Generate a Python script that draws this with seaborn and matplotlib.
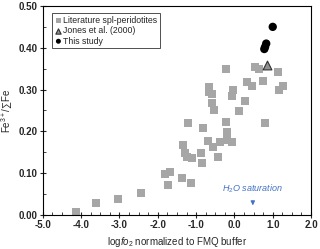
import numpy as np
import pandas as pd
import seaborn as sns
import matplotlib
matplotlib.use('Agg')
import matplotlib.pyplot as plt
from matplotlib.ticker import MultipleLocator

# literature spinel peridotites
lit_x = [-4.14, -3.62, -3.04, -2.44, -1.81, -1.68, -1.74, -1.37, -1.13, -1.34,
         -1.29, -1.24, -1.11, -0.87, -0.85, -1.21, -0.82, -0.69, -0.56, -0.43,
         -0.38, -0.19, -0.06, -0.19, -0.22, -0.66, -0.66, -0.59, -0.59, -0.53,
         -0.22, -0.04, -0.06, 0.33, 0.46, 0.28, 0.12, 0.54, 0.64, 1.14,
         0.75, 1.27, 1.16, 0.80]
lit_y = [0.007, 0.029, 0.038, 0.053, 0.098, 0.103, 0.072, 0.089, 0.077, 0.167,
         0.148, 0.139, 0.136, 0.148, 0.124, 0.220, 0.208, 0.177, 0.163, 0.139,
         0.175, 0.179, 0.175, 0.199, 0.222, 0.306, 0.294, 0.289, 0.268, 0.251,
         0.349, 0.299, 0.285, 0.318, 0.309, 0.273, 0.249, 0.354, 0.349, 0.342,
         0.321, 0.309, 0.299, 0.220]

# Jones et al. (2000)
jones_x = [0.84]
jones_y = [0.359]

# this study
study_x = [1.00, 0.83, 0.80, 0.78]
study_y = [0.450, 0.410, 0.402, 0.397]

sns.set_style('ticks')
plt.rcParams['font.family'] = ['Liberation Sans', 'DejaVu Sans']
plt.rcParams['mathtext.fontset'] = 'custom'
plt.rcParams['mathtext.rm'] = 'Liberation Sans'
plt.rcParams['mathtext.it'] = 'Liberation Sans:italic'

fig = plt.figure(figsize=(3.2, 2.49), dpi=100)
ax = fig.add_axes([0.134, 0.137, 0.838, 0.839])

sns.scatterplot(x=lit_x, y=lit_y, ax=ax, marker='s', s=36, color='#a6a6a6',
                edgecolor='none', label='Literature spl-peridotites', zorder=2)
sns.scatterplot(x=jones_x, y=jones_y, ax=ax, marker='^', s=40, color='#909090',
                edgecolor='#303030', linewidth=0.8, label='Jones et al. (2000)', zorder=3)
sns.scatterplot(x=study_x, y=study_y, ax=ax, marker='o', s=36, color='black',
                edgecolor='none', label='This study', zorder=4)

ax.set_xlim(-5.0, 2.0)
ax.set_ylim(0.0, 0.5)
ax.xaxis.set_major_locator(MultipleLocator(1.0))
ax.xaxis.set_minor_locator(MultipleLocator(0.25))
ax.yaxis.set_major_locator(MultipleLocator(0.1))
ax.yaxis.set_minor_locator(MultipleLocator(0.05))
ax.xaxis.set_major_formatter(plt.FormatStrFormatter('%.1f'))
ax.yaxis.set_major_formatter(plt.FormatStrFormatter('%.2f'))
ax.tick_params(which='major', direction='inout', length=4, width=0.8,
               labelsize=7, pad=2)
ax.tick_params(which='minor', direction='in', length=2, width=0.6)
for lab in ax.get_xticklabels() + ax.get_yticklabels():
    lab.set_fontweight('bold')
for sp in ax.spines.values():
    sp.set_linewidth(0.8)
    sp.set_color('black')

ax.set_xlabel(r'log$\mathit{fo}_2$ normalized to FMQ buffer', fontsize=7, labelpad=3)
ax.set_ylabel(r'Fe$^{3+}$/∑Fe', fontsize=7)
ax.yaxis.set_label_coords(-0.105, 0.5)

ax.annotate('', xy=(0.48, 0.016), xytext=(0.48, 0.04),
            arrowprops=dict(arrowstyle='-|>', color='#4472c4', lw=0.8,
                            mutation_scale=6))
ax.text(0.48, 0.047, r'H$_2$O saturation', color='#4472c4', fontsize=6.5,
        style='italic', ha='center', va='bottom')

leg = ax.legend(loc='upper left', bbox_to_anchor=(0.035, 0.965), fontsize=6.3,
                frameon=True, fancybox=False, borderpad=0.3, labelspacing=0.15,
                handletextpad=0.1, handlelength=0.8, markerscale=0.6,
                borderaxespad=0)
leg.get_frame().set_edgecolor('black')
leg.get_frame().set_linewidth(0.6)

fig.savefig('out.png', dpi=100)
